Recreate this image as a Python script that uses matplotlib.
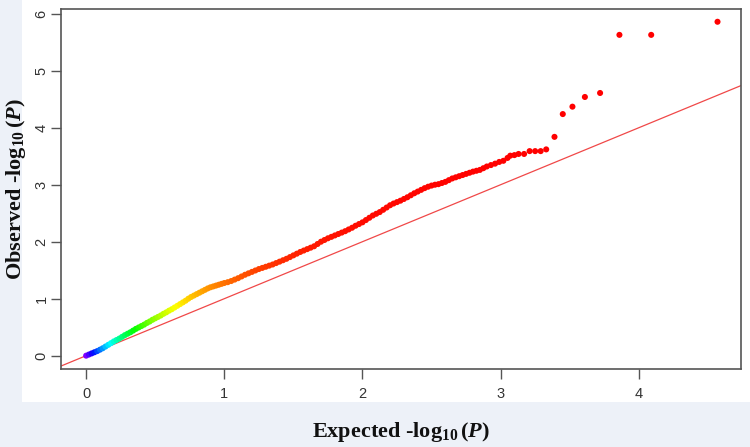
import numpy as np
import matplotlib
matplotlib.use("Agg")
import matplotlib.pyplot as plt
from matplotlib.colors import hsv_to_rgb
from matplotlib.patches import Rectangle

plt.rcParams['mathtext.fontset'] = 'custom'
plt.rcParams['mathtext.rm'] = 'Liberation Serif:bold'
plt.rcParams['mathtext.it'] = 'Liberation Serif:bold:italic'
plt.rcParams['mathtext.bf'] = 'Liberation Serif:bold'

# expected -log10(P)
expected = [0.00, 0.02, 0.04, 0.06, 0.08, 0.10, 0.12, 0.14, 0.16, 0.18,
            0.20, 0.22, 0.24, 0.26, 0.28, 0.30, 0.32, 0.34, 0.36, 0.38,
            0.40, 0.42, 0.44, 0.46, 0.48, 0.50, 0.52, 0.54, 0.56, 0.58,
            0.60, 0.62, 0.64, 0.66, 0.68, 0.70, 0.72, 0.74, 0.76, 0.78,
            0.80, 0.82, 0.84, 0.86, 0.88, 0.90, 0.92, 0.94, 0.96, 0.98,
            1.00, 1.025, 1.05, 1.075, 1.10, 1.125, 1.15, 1.175, 1.20, 1.225,
            1.25, 1.275, 1.30, 1.325, 1.35, 1.375, 1.40, 1.425, 1.45, 1.475,
            1.50, 1.525, 1.55, 1.575, 1.60, 1.625, 1.65, 1.675, 1.70, 1.725,
            1.75, 1.775, 1.80, 1.825, 1.85, 1.875, 1.90, 1.925, 1.95, 1.975,
            2.00, 2.025, 2.05, 2.075, 2.10, 2.125, 2.15, 2.175, 2.20, 2.225,
            2.25, 2.275, 2.30, 2.325, 2.35, 2.375, 2.40, 2.425, 2.45, 2.475,
            2.50, 2.525, 2.55, 2.575, 2.60, 2.625, 2.65, 2.675, 2.70, 2.725,
            2.75, 2.775, 2.80, 2.825, 2.85, 2.875, 2.90,
            2.93, 2.96, 2.99, 3.02, 3.05, 3.07, 3.10, 3.13, 3.17, 3.21,
            3.25, 3.29, 3.33, 3.39, 3.45, 3.52, 3.61, 3.72, 3.86, 4.09, 4.57]

# observed -log10(P)
observed = [0.00, 0.02, 0.04, 0.06, 0.08, 0.105, 0.13, 0.16, 0.19, 0.22,
            0.25, 0.275, 0.30, 0.33, 0.36, 0.385, 0.41, 0.44, 0.47, 0.495,
            0.52, 0.545, 0.575, 0.60, 0.63, 0.655, 0.68, 0.705, 0.735, 0.76,
            0.79, 0.815, 0.845, 0.875, 0.905, 0.935, 0.965, 1.00, 1.03, 1.055,
            1.08, 1.105, 1.13, 1.155, 1.18, 1.20, 1.215, 1.23, 1.245, 1.26,
            1.275, 1.29, 1.31, 1.335, 1.36, 1.39, 1.42, 1.445, 1.47, 1.495,
            1.52, 1.54, 1.56, 1.58, 1.60, 1.625, 1.65, 1.675, 1.70, 1.73,
            1.76, 1.79, 1.82, 1.845, 1.87, 1.895, 1.92, 1.96, 2.00, 2.03,
            2.06, 2.085, 2.11, 2.135, 2.16, 2.185, 2.215, 2.245, 2.28, 2.31,
            2.34, 2.38, 2.42, 2.46, 2.49, 2.52, 2.56, 2.60, 2.64, 2.67,
            2.695, 2.72, 2.75, 2.78, 2.815, 2.85, 2.88, 2.91, 2.94, 2.965,
            2.985, 3.00, 3.01, 3.03, 3.05, 3.08, 3.11, 3.13, 3.15, 3.17,
            3.19, 3.21, 3.23, 3.245, 3.26, 3.29, 3.32,
            3.345, 3.37, 3.40, 3.42, 3.47, 3.51, 3.52, 3.54, 3.54, 3.59,
            3.59, 3.59, 3.62, 3.84, 4.24, 4.37, 4.54, 4.61, 5.63, 5.63, 5.86]

xticks = [0, 1, 2, 3, 4]
yticks = [0, 1, 2, 3, 4, 5, 6]

ex = np.array(expected)
ob = np.array(observed)

# rainbow by rank: purple for the bulk near 0, red for the top hits
hue = 0.75 * 10 ** (-ex)
cols = hsv_to_rgb(np.column_stack([hue, np.ones_like(hue), np.ones_like(hue)]))

fig = plt.figure(figsize=(7.5, 4.47), dpi=100, facecolor='#edf1f8')
panel = Rectangle((22 / 750, 45 / 447), 1, 1, transform=fig.transFigure,
                  facecolor='white', edgecolor='none', zorder=-1)
fig.patches.append(panel)

ax = fig.add_axes([61 / 750, 1 - 369 / 447, 680 / 750, 360 / 447])
ax.set_facecolor('white')

ax.axline((0, 0), slope=1, color='#f04848', lw=0.9, zorder=1)
ax.scatter(ex, ob, s=19, c=cols, edgecolors='none', zorder=2)

ax.set_xlim(-0.182, 4.74)
ax.set_ylim(-0.234, 6.084)
ax.set_xticks(xticks)
ax.set_yticks(yticks)
for s in ax.spines.values():
    s.set_color('#555555')
    s.set_linewidth(1.2)
ax.tick_params(length=7, width=1.0, color='#555555', labelcolor='#333333',
               labelsize=10.5)
ax.tick_params(axis='x', pad=6)
ax.tick_params(axis='y', pad=2)
for lab in ax.get_xticklabels() + ax.get_yticklabels():
    lab.set_family('Liberation Sans')
for lab in ax.get_yticklabels():
    lab.set_rotation(90)
    lab.set_va('center')

fig.text(0.5 * (61 + 741) / 750, 1 - 432 / 447, r'Expected -log$_{10}\,(P)$',
         ha='center', va='center', fontsize=16, family='Liberation Serif',
         weight='bold', color='#111111')
fig.text(16 / 750, 1 - 189 / 447, r'Observed -log$_{10}\,(P)$', rotation=90,
         ha='center', va='center', fontsize=16, family='Liberation Serif',
         weight='bold', color='#111111')

fig.savefig('out.png', dpi=100, facecolor=fig.get_facecolor())
